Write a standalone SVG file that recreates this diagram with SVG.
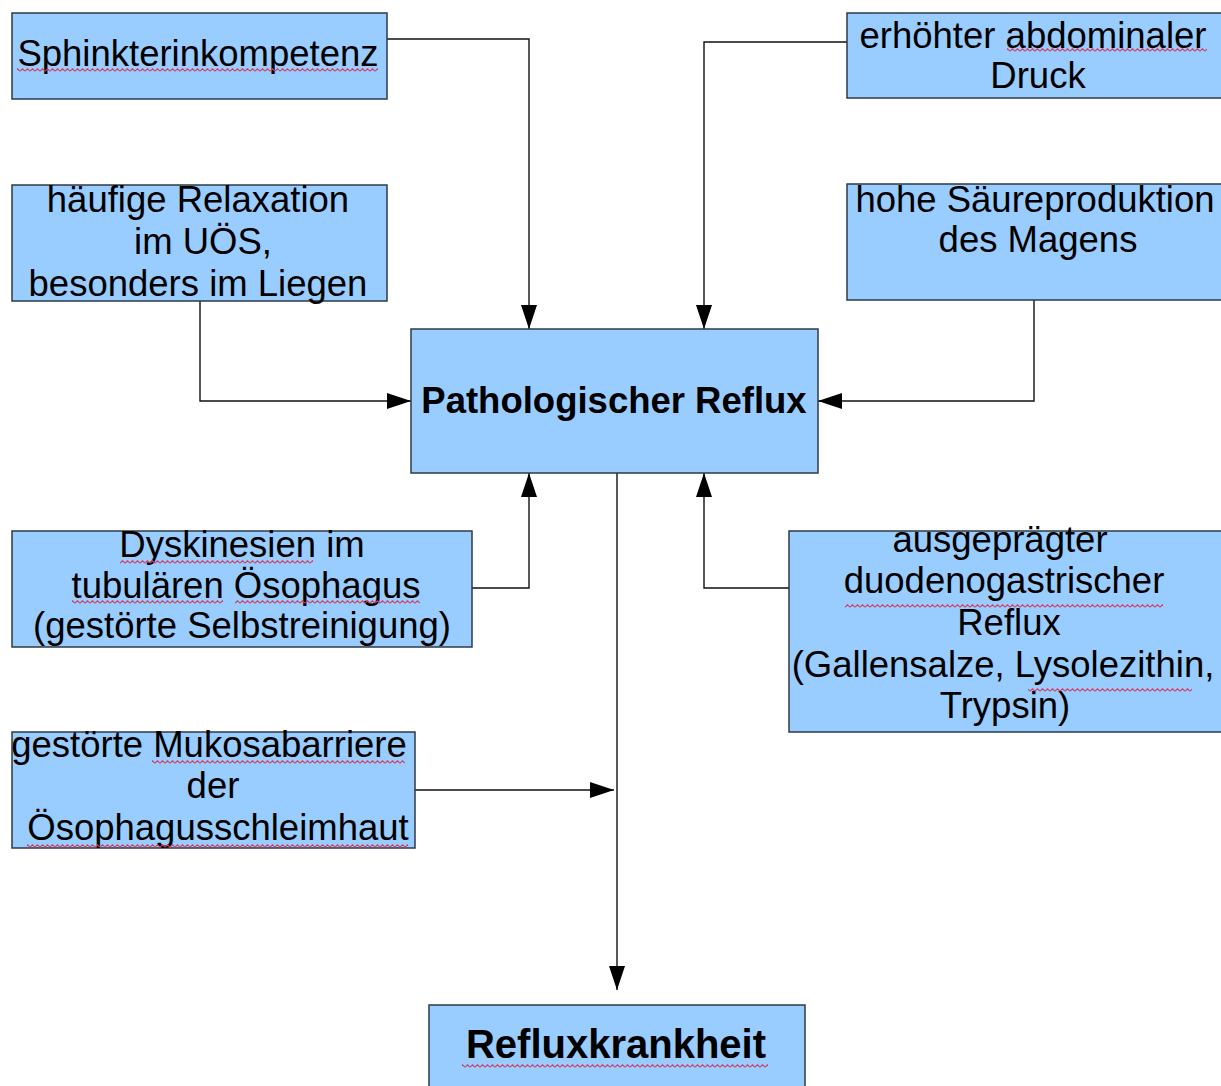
<svg xmlns="http://www.w3.org/2000/svg" width="1221" height="1086" viewBox="0 0 1221 1086">
  <style>
    .box { fill: #99ccff; stroke: #2e3a48; stroke-width: 1.5; }
    .t { font-family: "Liberation Sans", Arial, sans-serif; font-size: 36.5px; fill: #000; text-anchor: middle; }
    .b { font-weight: bold; font-size: 36.5px; }
    .c { fill: none; stroke: #111; stroke-width: 1.4; }
    .sq { fill: url(#squig); }
  </style>
  <defs>
    <marker id="arr" markerUnits="userSpaceOnUse" markerWidth="24" markerHeight="16" refX="24" refY="8" orient="auto">
      <path d="M0,0 L24,8 L0,16 z" fill="#000"/>
    </marker>
    <pattern id="squig" patternUnits="userSpaceOnUse" width="5" height="4">
      <path d="M0,3.2 L2.5,0.8 L5,3.2" fill="none" stroke="#d83858" stroke-width="1.1"/>
    </pattern>
  </defs>
  <rect width="1221" height="1086" fill="#fff"/>

  <g id="connectors">
    <polyline class="c" points="387,39 529,39 529,329" marker-end="url(#arr)"/>
    <polyline class="c" points="847,42 704,42 704,329" marker-end="url(#arr)"/>
    <polyline class="c" points="200,301 200,401 411,401" marker-end="url(#arr)"/>
    <polyline class="c" points="1034,300 1034,401 818,401" marker-end="url(#arr)"/>
    <polyline class="c" points="472,588 529,588 529,473" marker-end="url(#arr)"/>
    <polyline class="c" points="789,588 704,588 704,473" marker-end="url(#arr)"/>
    <polyline class="c" points="415,790 614,790" marker-end="url(#arr)"/>
    <polyline class="c" points="617,473 617,990" marker-end="url(#arr)"/>
  </g>

  <g id="sphinkter">
    <rect class="box" x="12" y="13" width="375" height="86"/>
    <text class="t" x="198" y="66">Sphinkterinkompetenz</text>
    <rect class="sq" x="17" y="68" width="361" height="4"/>
  </g>

  <g id="relaxation">
    <rect class="box" x="12" y="185" width="375" height="116"/>
    <text class="t" x="198" y="212">häufige Relaxation</text>
    <text class="t" x="203" y="254">im UÖS,</text>
    <text class="t" x="198" y="296">besonders im Liegen</text>
  </g>

  <g id="druck">
    <rect class="box" x="847" y="13" width="380" height="85"/>
    <text class="t" x="1033" y="48">erhöhter abdominaler</text>
    <text class="t" x="1038" y="88">Druck</text>
    <rect class="sq" x="1007" y="48" width="200" height="4"/>
  </g>

  <g id="saeure">
    <rect class="box" x="847" y="184" width="380" height="116"/>
    <text class="t" x="1035" y="212">hohe Säureproduktion</text>
    <text class="t" x="1038" y="252">des Magens</text>
  </g>

  <g id="patho">
    <rect class="box" x="411" y="329" width="407" height="144"/>
    <text class="t b" x="614" y="413">Pathologischer Reflux</text>
  </g>

  <g id="dyskinesien">
    <rect class="box" x="12" y="531" width="460" height="116"/>
    <text class="t" x="242" y="557">Dyskinesien im</text>
    <text class="t" x="246" y="598">tubulären Ösophagus</text>
    <text class="t" x="242" y="638">(gestörte Selbstreinigung)</text>
    <rect class="sq" x="120" y="560" width="193" height="4"/>
    <rect class="sq" x="72" y="600" width="151" height="4"/>
    <rect class="sq" x="235" y="600" width="185" height="4"/>
  </g>

  <g id="mukosa">
    <rect class="box" x="12" y="732" width="403" height="116"/>
    <text class="t" x="209" y="757">gestörte Mukosabarriere</text>
    <text class="t" x="213" y="798">der</text>
    <text class="t" x="218" y="840">Ösophagusschleimhaut</text>
    <rect class="sq" x="152" y="760" width="253" height="4"/>
    <rect class="sq" x="27" y="844" width="381" height="4"/>
  </g>

  <g id="duodeno">
    <rect class="box" x="789" y="531" width="438" height="201"/>
    <text class="t" x="1000" y="552">ausgeprägter</text>
    <text class="t" x="1004" y="593">duodenogastrischer</text>
    <text class="t" x="1009" y="635">Reflux</text>
    <text class="t" x="1003" y="677">(Gallensalze, Lysolezithin,</text>
    <text class="t" x="1005" y="718">Trypsin)</text>
    <rect class="sq" x="845" y="604" width="318" height="4"/>
    <rect class="sq" x="1028" y="688" width="164" height="4"/>
  </g>

  <g id="refluxkrankheit">
    <rect class="box" x="429" y="1005" width="376" height="90"/>
    <text class="t b" x="616" y="1058" style="font-size:40px">Refluxkrankheit</text>
    <rect class="sq" x="462" y="1064" width="306" height="4"/>
  </g>
</svg>
